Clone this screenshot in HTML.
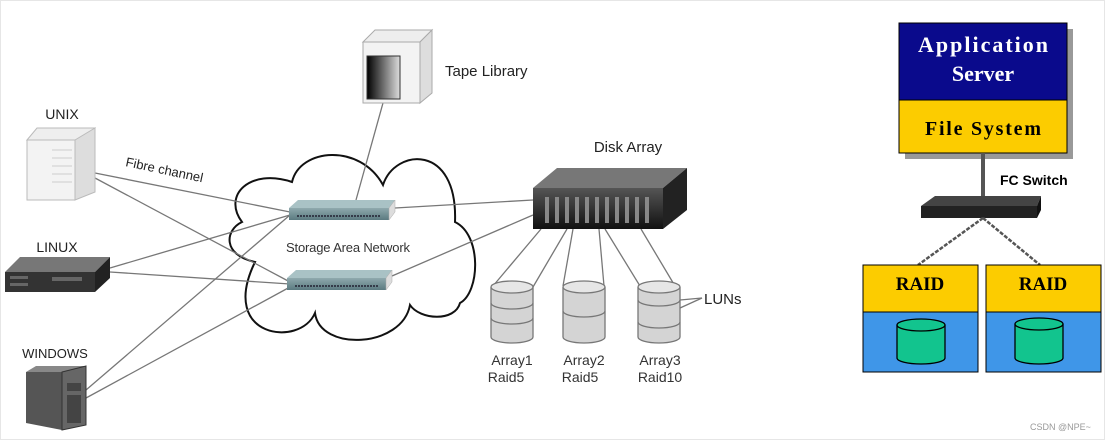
<!DOCTYPE html>
<html><head><meta charset="utf-8"><style>
html,body{margin:0;padding:0;background:#fff}
body{width:1105px;height:440px;overflow:hidden;position:relative;font-family:"Liberation Sans",sans-serif}
</style></head><body>
<svg width="1105" height="440" viewBox="0 0 1105 440" xmlns="http://www.w3.org/2000/svg" style="position:absolute;left:0;top:0">
<defs>
<linearGradient id="tape" x1="0" x2="1"><stop offset="0" stop-color="#000"/><stop offset="1" stop-color="#ddd"/></linearGradient>
<linearGradient id="sw" x1="0" y1="0" x2="0" y2="1"><stop offset="0" stop-color="#8fa9ad"/><stop offset="1" stop-color="#5b7a80"/></linearGradient>
<linearGradient id="disk" x1="0" y1="0" x2="0" y2="1"><stop offset="0" stop-color="#555"/><stop offset="1" stop-color="#111"/></linearGradient>
</defs>
<rect x="0.5" y="0.5" width="1104" height="439" fill="#fff" stroke="#e6e6e6"/>
<!-- cloud -->
<path d="M242,222 C222,195 250,168 292,182 C300,148 360,143 383,185 C395,148 458,143 455,222 C482,235 480,292 460,303 C455,322 420,320 410,305 C402,348 320,352 315,313 C300,348 218,338 255,262 C222,255 225,230 242,222 Z" fill="none" stroke="#111" stroke-width="2"/>
<!-- lines -->
<g stroke="#777" stroke-width="1.3" fill="none">
<line x1="95" y1="173" x2="290" y2="212"/>
<line x1="95" y1="178" x2="290" y2="282"/>
<line x1="110" y1="268" x2="290" y2="215"/>
<line x1="110" y1="272" x2="290" y2="284"/>
<line x1="86" y1="390" x2="290" y2="215"/>
<line x1="86" y1="398" x2="290" y2="287"/>
<line x1="383" y1="103" x2="356" y2="200"/>
<line x1="395" y1="208" x2="533" y2="200"/>
<line x1="392" y1="276" x2="533" y2="215"/>
<line x1="541" y1="229" x2="493" y2="286"/>
<line x1="567" y1="229" x2="533" y2="287"/>
<line x1="573" y1="229" x2="563" y2="286"/>
<line x1="599" y1="229" x2="604" y2="286"/>
<line x1="605" y1="229" x2="640" y2="286"/>
<line x1="641" y1="229" x2="675" y2="286"/>
<line x1="680" y1="300" x2="702" y2="298"/>
<line x1="680" y1="308" x2="702" y2="298"/>
</g>
<!-- switches -->
<g>
<polygon points="289,208 298,200 395,200 389,208" fill="#a9c2c5"/>
<rect x="289" y="208" width="100" height="12" fill="url(#sw)"/>
<polygon points="389,208 395,200 395,212 389,220" fill="#ddd" stroke="#aaa" stroke-width=".5"/>
<line x1="297" y1="216" x2="380" y2="216" stroke="#223" stroke-width="1.5" stroke-dasharray="2 1"/>
<polygon points="287,278 296,270 392,270 386,278" fill="#a9c2c5"/>
<rect x="287" y="278" width="99" height="12" fill="url(#sw)"/>
<polygon points="386,278 392,270 392,282 386,290" fill="#ddd" stroke="#aaa" stroke-width=".5"/>
<line x1="295" y1="286" x2="378" y2="286" stroke="#223" stroke-width="1.5" stroke-dasharray="2 1"/>
</g>
<text x="348" y="252" font-size="13" text-anchor="middle" fill="#333" textLength="124">Storage Area Network</text>
<text x="125" y="166" font-size="13" fill="#222" transform="rotate(12 125 166)">Fibre channel</text>
<!-- UNIX -->
<text x="62" y="119" font-size="14" text-anchor="middle" fill="#222">UNIX</text>
<polygon points="27,140 37,128 95,128 85,140" fill="#eee" stroke="#bbb"/>
<rect x="27" y="140" width="48" height="60" fill="#f3f3f3" stroke="#bbb"/>
<polygon points="75,140 95,128 95,192 75,200" fill="#ddd" stroke="#bbb"/>
<g stroke="#ccc"><line x1="52" y1="150" x2="72" y2="150"/><line x1="52" y1="158" x2="72" y2="158"/><line x1="52" y1="166" x2="72" y2="166"/><line x1="52" y1="174" x2="72" y2="174"/><line x1="52" y1="182" x2="72" y2="182"/></g>
<!-- LINUX -->
<text x="57" y="252" font-size="14" text-anchor="middle" fill="#222">LINUX</text>
<polygon points="5,272 20,257 110,257 95,272" fill="#777"/>
<rect x="5" y="272" width="90" height="20" fill="#333"/>
<polygon points="95,272 110,257 110,278 95,292" fill="#222"/>
<rect x="52" y="277" width="30" height="4" fill="#666"/><rect x="10" y="276" width="18" height="3" fill="#666"/><rect x="10" y="283" width="18" height="3" fill="#666"/>
<!-- WINDOWS -->
<text x="55" y="358" font-size="13" text-anchor="middle" fill="#222">WINDOWS</text>
<polygon points="26,372 36,366 86,366 62,372" fill="#888"/>
<polygon points="26,372 62,372 62,430 26,423" fill="#555"/>
<polygon points="62,372 86,366 86,425 62,430" fill="#666" stroke="#333"/>
<rect x="67" y="383" width="14" height="8" fill="#444"/><rect x="67" y="395" width="14" height="28" fill="#444"/>
<!-- Tape -->
<polygon points="363,42 375,30 432,30 420,42" fill="#eee" stroke="#aaa"/>
<rect x="363" y="42" width="57" height="61" fill="#f3f3f3" stroke="#aaa"/>
<polygon points="420,42 432,30 432,93 420,103" fill="#ddd" stroke="#aaa"/>
<rect x="367" y="56" width="33" height="43" fill="url(#tape)" stroke="#333"/>
<text x="445" y="76" font-size="15" fill="#222">Tape Library</text>
<!-- Disk array -->
<text x="628" y="152" font-size="15" fill="#222" text-anchor="middle">Disk Array</text>
<polygon points="533,188 557,168 687,168 663,188" fill="#777"/>
<rect x="533" y="188" width="130" height="41" fill="url(#disk)"/>
<polygon points="663,188 687,168 687,210 663,229" fill="#222"/>
<g fill="#888"><rect x="545" y="197" width="4" height="26"/><rect x="555" y="197" width="4" height="26"/><rect x="565" y="197" width="4" height="26"/><rect x="575" y="197" width="4" height="26"/><rect x="585" y="197" width="4" height="26"/><rect x="595" y="197" width="4" height="26"/><rect x="605" y="197" width="4" height="26"/><rect x="615" y="197" width="4" height="26"/><rect x="625" y="197" width="4" height="26"/><rect x="635" y="197" width="4" height="26"/><rect x="645" y="197" width="4" height="26"/></g>
<!-- cylinders -->
<g fill="#d4d4d4" stroke="#777" stroke-width="1.3">
<path d="M491,287 v50 a21,6 0 0 0 42,0 v-50"/><ellipse cx="512" cy="287" rx="21" ry="6" fill="#e6e6e6"/>
<path d="M491,303 a21,6 0 0 0 42,0 M491,318 a21,6 0 0 0 42,0" fill="none"/>
<path d="M563,287 v50 a21,6 0 0 0 42,0 v-50"/><ellipse cx="584" cy="287" rx="21" ry="6" fill="#e6e6e6"/>
<path d="M563,311 a21,6 0 0 0 42,0" fill="none"/>
<path d="M638,287 v50 a21,6 0 0 0 42,0 v-50"/><ellipse cx="659" cy="287" rx="21" ry="6" fill="#e6e6e6"/>
<path d="M638,300 a21,6 0 0 0 42,0 M638,322 a21,6 0 0 0 42,0" fill="none"/>
</g>
<text x="704" y="304" font-size="15" fill="#222">LUNs</text>
<g font-size="14" fill="#333" text-anchor="middle">
<text x="512" y="365">Array1</text><text x="506" y="382">Raid5</text>
<text x="584" y="365">Array2</text><text x="580" y="382">Raid5</text>
<text x="660" y="365">Array3</text><text x="660" y="382">Raid10</text>
</g>
<!-- right diagram -->
<rect x="905" y="29" width="168" height="130" fill="#999"/>
<rect x="899" y="23" width="168" height="77" fill="#0a0a8c" stroke="#000"/>
<rect x="899" y="100" width="168" height="53" fill="#fccc00" stroke="#000"/>
<g font-family="Liberation Serif,serif" font-weight="bold" text-anchor="middle">
<text x="983" y="52" font-size="22" fill="#fff" textLength="130">Application</text>
<text x="983" y="81" font-size="22" fill="#fff">Server</text>
<text x="983" y="135" font-size="20" fill="#000" textLength="116">File System</text>
</g>
<rect x="981" y="153" width="4" height="45" fill="#555"/>
<text x="1000" y="185" font-size="14" font-weight="bold" fill="#000">FC Switch</text>
<polygon points="921,206 935,196 1041,196 1037,206" fill="#444"/>
<rect x="921" y="206" width="116" height="12" fill="#222"/>
<polygon points="1037,206 1041,196 1041,210 1037,218" fill="#111"/>
<g stroke="#555" stroke-width="2.5" stroke-dasharray="4 1.5"><line x1="983" y1="218" x2="918" y2="265"/><line x1="983" y1="218" x2="1040" y2="265"/></g>
<rect x="863" y="265" width="115" height="47" fill="#fccc00" stroke="#000"/>
<rect x="863" y="312" width="115" height="60" fill="#3f96e8" stroke="#000"/>
<rect x="986" y="265" width="115" height="47" fill="#fccc00" stroke="#000"/>
<rect x="986" y="312" width="115" height="60" fill="#3f96e8" stroke="#000"/>
<g font-family="Liberation Serif,serif" font-weight="bold" font-size="19" text-anchor="middle"><text x="920" y="290">RAID</text><text x="1043" y="290">RAID</text></g>
<g fill="#12c48e" stroke="#000" stroke-width="1.3">
<path d="M897,325 v33 a24,6 0 0 0 48,0 v-33"/><ellipse cx="921" cy="325" rx="24" ry="6"/>
<path d="M1015,324 v34 a24,6 0 0 0 48,0 v-34"/><ellipse cx="1039" cy="324" rx="24" ry="6"/>
</g>
<text x="1030" y="430" font-size="9" fill="#999">CSDN @NPE~</text>
</svg>
</body></html>
